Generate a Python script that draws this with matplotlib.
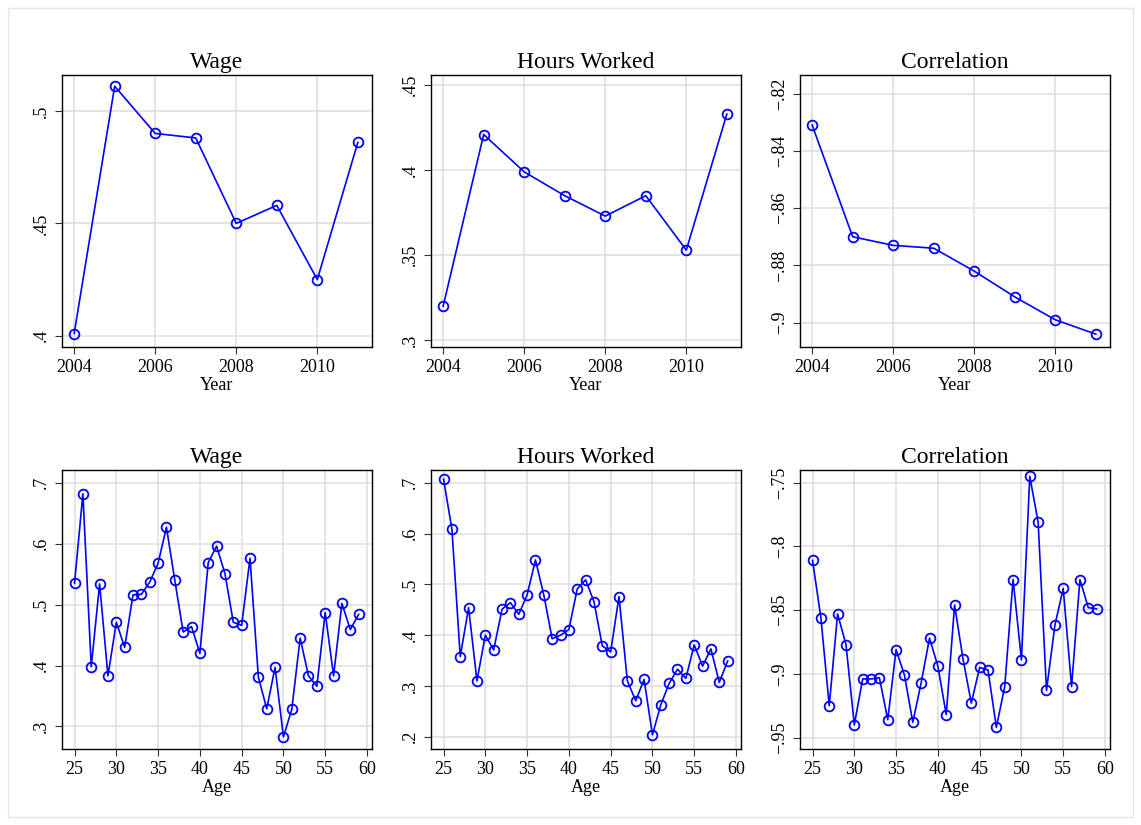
import matplotlib
matplotlib.use("Agg")
import matplotlib.pyplot as plt
from matplotlib.ticker import FuncFormatter

plt.rcParams['font.family'] = ['Liberation Serif', 'DejaVu Serif']

years = [2004, 2005, 2006, 2007, 2008, 2009, 2010, 2011]
wage_year = [.401, .511, .490, .488, .450, .458, .425, .486]
hours_year = [.320, .421, .399, .385, .373, .385, .353, .433]
corr_year = [-.831, -.870, -.873, -.874, -.882, -.891, -.899, -.904]

ages = list(range(25, 60))
wage_age = [.535, .682, .398, .534, .383, .471, .430, .516, .517, .537, .568, .627,
            .540, .455, .464, .420, .569, .596, .551, .471, .466, .576, .381, .329,
            .397, .283, .328, .445, .383, .366, .487, .383, .502, .459, .484]
hours_age = [.707, .609, .358, .454, .310, .400, .371, .451, .464, .441, .479, .548,
             .479, .393, .400, .411, .491, .509, .466, .379, .367, .476, .310, .271,
             .313, .204, .263, .305, .333, .315, .381, .339, .373, .307, .349]
corr_age = [-.811, -.856, -.925, -.853, -.877, -.940, -.904, -.904, -.903, -.936,
            -.881, -.901, -.938, -.907, -.872, -.894, -.932, -.846, -.888, -.923,
            -.895, -.897, -.942, -.910, -.826, -.889, -.745, -.781, -.913, -.862,
            -.833, -.910, -.826, -.848, -.849]


def stata_fmt(v, pos):
    s = ('%.3f' % v).rstrip('0').rstrip('.')
    s = s.replace('0.', '.')
    if s in ('', '-'):
        s = '0'
    return s.replace('-', '\u2212')


fig = plt.figure(figsize=(11.41, 8.25), dpi=100)
fig.patches.append(plt.Rectangle((0.007, 0.01), 0.986, 0.98, transform=fig.transFigure,
                                 fill=False, edgecolor='#e6e6e6', lw=1))

lefts = [62, 431, 800]
w = 310
rows = [(75, 347), (470, 749)]
panels = [
    (0, 0, 'Wage', years, wage_year, 'Year', [.4, .45, .5], (.395, .516)),
    (0, 1, 'Hours Worked', years, hours_year, 'Year', [.3, .35, .4, .45], (.296, .456)),
    (0, 2, 'Correlation', years, corr_year, 'Year', [-.9, -.88, -.86, -.84, -.82], (-.9085, -.8135)),
    (1, 0, 'Wage', ages, wage_age, 'Age', [.3, .4, .5, .6, .7], (.263, .721)),
    (1, 1, 'Hours Worked', ages, hours_age, 'Age', [.2, .3, .4, .5, .6, .7], (.176, .725)),
    (1, 2, 'Correlation', ages, corr_age, 'Age', [-.95, -.9, -.85, -.8, -.75], (-.959, -.740)),
]

for r, c, title, x, y, xlab, yt, ylim in panels:
    top, bot = rows[r]
    ax = fig.add_axes([lefts[c] / 1141, 1 - bot / 825, w / 1141, (bot - top) / 825])
    ax.plot(x, y, color='#0000ff', lw=1.2, marker='o', ms=7, mfc='none', mec='#0000ff', mew=1.3)
    ax.set_title(title, fontsize=17, pad=5)
    ax.set_xlabel(xlab, fontsize=13, labelpad=1)
    ax.set_yticks(yt)
    ax.set_ylim(*ylim)
    if r == 0:
        ax.set_xticks([2004, 2006, 2008, 2010])
        ax.set_xlim(2003.7, 2011.35)
    else:
        ax.set_xticks([25, 30, 35, 40, 45, 50, 55, 60])
        ax.set_xlim(23.5, 60.6)
    ax.yaxis.set_major_formatter(FuncFormatter(stata_fmt))
    ax.grid(True, color='#e0e0e0', lw=1.2)
    ax.set_axisbelow(True)
    ax.tick_params(labelsize=13, length=5, color='#333333')
    for lab in ax.get_yticklabels():
        lab.set_rotation(90)
        lab.set_va('center')
    for s in ax.spines.values():
        s.set_color('black')
        s.set_linewidth(1)

fig.savefig('out.png', dpi=100)
